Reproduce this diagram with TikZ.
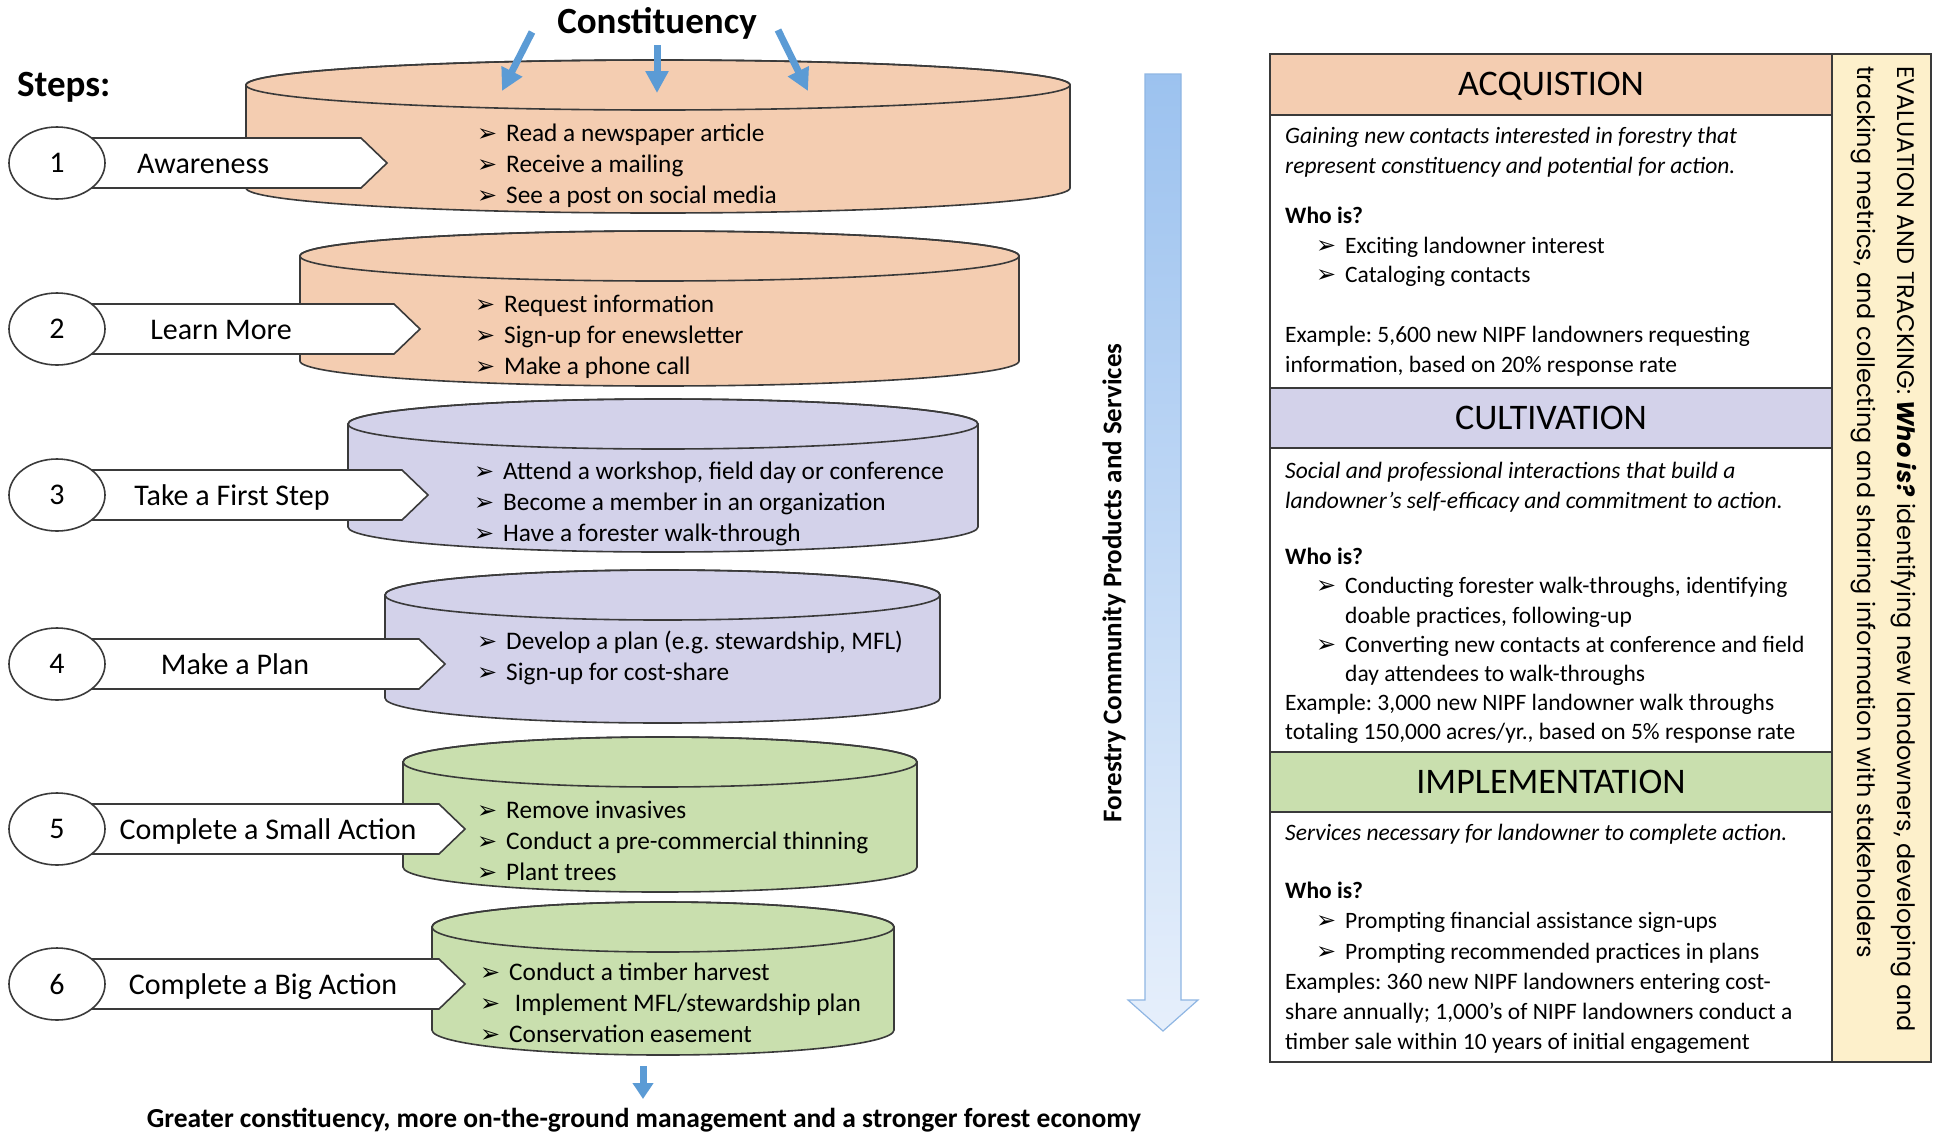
\documentclass[tikz,border=0pt]{standalone}
\usepackage{fontspec}
\setmainfont{Carlito}
\newfontfamily\dv{DejaVu Sans}
\newfontfamily\gothic{Poppins}
\usetikzlibrary{arrows.meta,shapes.geometric}
\definecolor{peach}{HTML}{F4CDB1}
\definecolor{lav}{HTML}{D3D2EA}
\definecolor{grn}{HTML}{C9DFAE}
\definecolor{yel}{HTML}{FDF0CB}
\definecolor{edge}{HTML}{3A3A3A}
\definecolor{arrblue}{HTML}{5B9BD5}
\definecolor{bigtop}{HTML}{9CC2EF}
\definecolor{bigbot}{HTML}{E6EFFB}
\definecolor{bigline}{HTML}{8FB6E3}
\frenchspacing
\newcommand\fs[2]{\fontsize{#1}{#2}\selectfont}
\newcommand\bl{\makebox[29pt][l]{\raisebox{0pt}{\dv\fs{24}{24}➢}}}
\newcommand\cylinder[5]{%
  \pgfmathsetmacro\cylcx{(#1+#2)/2}%
  \pgfmathsetmacro\cylrx{(#2-#1)/2}%
  \filldraw[cyl, fill=#5] (#1,#3) -- (#1,#4) arc[start angle=180,end angle=0,x radius=\cylrx,y radius=25] -- (#2,#3) arc[start angle=0,end angle=-180,x radius=\cylrx,y radius=25] -- cycle;
  \draw[cyl] (\cylcx,#3) ellipse[x radius=\cylrx,y radius=25];
}
\tikzset{
  cyl/.style={draw=edge, line width=1.6pt},
  outline/.style={draw=edge, line width=1.6pt},
  steptext/.style={inner sep=0pt, text height=21pt, text depth=6pt, font=\fs{30}{30}},
  stepcirc/.style={ellipse, draw=edge, line width=1.6pt, fill=white, minimum width=96pt, minimum height=72pt, inner sep=0pt, font=\fs{30}{30}},
  cyltext/.style={inner sep=0pt, anchor=west, align=left, font=\fs{25.3}{31}},
  boxtext/.style={inner sep=0pt, anchor=west, align=left, font=\fs{23.5}{29.5}},
  header/.style={inner sep=0pt, text height=25pt, text depth=7pt, font=\fs{36}{36}},
  bluearrow/.style={draw=arrblue, line width=7pt, -{Triangle[width=22pt,length=22pt]}},
}
\begin{document}
\begin{tikzpicture}[x=1pt,y=-1pt]
\useasboundingbox[fill=white] (0,0) rectangle (1939,1133);

% titles
\node[inner sep=0pt, text height=26pt, text depth=7.5pt, font=\bfseries\fs{37}{37}] (title) at (657,24) {Constituency};
\node[inner sep=0pt, anchor=west, text height=26pt, text depth=7.5pt, font=\bfseries\fs{37}{37}] (steps) at (17,87) {Steps:};

% cylinders
\cylinder{246}{1070}{85}{188}{peach}
\cylinder{300}{1019}{256}{361}{peach}
\cylinder{348}{978}{424}{527}{lav}
\cylinder{385}{940}{595}{698}{lav}
\cylinder{403}{917}{762}{867}{grn}
\cylinder{432}{894}{927}{1030}{grn}

% constituency arrows
\coordinate (a1s) at (532,32); \coordinate (a1e) at (502,91);
\coordinate (a2s) at (657,45); \coordinate (a2e) at (657,93);
\coordinate (a3s) at (778,30); \coordinate (a3e) at (808,91);
\draw[bluearrow] (a1s) -- (a1e);
\draw[bluearrow] (a2s) -- (a2e);
\draw[bluearrow] (a3s) -- (a3e);

% cylinder texts
\node[cyltext] (c1) at (477,166) {\bl Read a newspaper article\\\bl Receive a mailing\\\bl See a post on social media};
\node[cyltext] (c2) at (475,337) {\bl Request information\\\bl Sign-up for enewsletter\\\bl Make a phone call};
\node[cyltext] (c3) at (474,504) {\bl Attend a workshop, field day or conference\\\bl Become a member in an organization\\\bl Have a forester walk-through};
\node[cyltext] (c4) at (477,658) {\bl Develop a plan (e.g. stewardship, MFL)\\\bl Sign-up for cost-share};
\node[cyltext] (c5) at (477,841) {\bl Remove invasives\\\bl Conduct a pre-commercial thinning\\\bl Plant trees};
\node[cyltext] (c6) at (480,1003) {\bl Conduct a timber harvest\\\bl\ Implement MFL/stewardship plan\\\bl Conservation easement};

% step labels
\foreach \n/\cy/\tip/\tx/\lab in {1/163/387/203/Awareness, 2/329/420/221/Learn More, 3/495/428/232/Take a First Step, 4/664/445/235/Make a Plan, 5/829/465/268/Complete a Small Action, 6/984/465/263/Complete a Big Action}{
  \filldraw[outline, fill=white] (57,\cy-25) -- (\tip-26,\cy-25) -- (\tip,\cy) -- (\tip-26,\cy+25) -- (57,\cy+25) -- cycle;
  \node[steptext] (lab\n) at (\tx,\cy+3) {\lab};
  \node[stepcirc] (num\n) at (57,\cy) {\n};
}

% big arrow
\path[draw=bigline, line width=1.2pt, top color=bigtop, bottom color=bigbot]
  (1145,74) -- (1181,74) -- (1181,1000) -- (1198,1000) -- (1163,1031) -- (1128,1000) -- (1145,1000) -- cycle;
\node[rotate=90, inner sep=0pt, font=\bfseries\fs{27}{27}] (forestry) at (1114,583) {Forestry Community Products and Services};

% bottom
\coordinate (bs) at (643,1066); \coordinate (be) at (643,1099);
\draw[bluearrow, -{Triangle[width=20pt,length=16pt]}] (bs) -- (be);
\node[inner sep=0pt, text height=19pt, text depth=5.5pt, font=\bfseries\fs{27.5}{27.5}] (result) at (644,1121) {Greater constituency, more on-the-ground management and a stronger forest economy};

% right box
\filldraw[outline, fill=yel] (1832,54) rectangle (1931,1062);
\filldraw[outline, fill=white] (1270,54) rectangle (1832,1062);
\filldraw[outline, fill=peach] (1270,54) rectangle (1832,115);
\filldraw[outline, fill=lav] (1270,388) rectangle (1832,448);
\filldraw[outline, fill=grn] (1270,752) rectangle (1832,812);
\node[header] (hacq) at (1551,86) {ACQUISTION};
\node[header] (hcul) at (1551,420) {CULTIVATION};
\node[header] (himp) at (1551,784) {IMPLEMENTATION};

\node[boxtext] (acq1) at (1285,152) {\itshape Gaining new contacts interested in forestry that\\\itshape represent constituency and potential for action.};
\node[boxtext] (acq2) at (1285,247) {\textbf{Who is?}\\\hspace*{31pt}\bl Exciting landowner interest\\\hspace*{31pt}\bl Cataloging contacts};
\node[boxtext] (acq3) at (1285,351) {Example: 5,600 new NIPF landowners requesting\\information, based on 20\% response rate};

\node[boxtext] (cul1) at (1285,487) {\itshape Social and professional interactions that build a\\\itshape landowner’s self-efficacy and commitment to action.};
\node[boxtext, font=\fs{23.5}{29.2}] (cul2) at (1285,646) {\textbf{Who is?}\\\hspace*{31pt}\bl Conducting forester walk-throughs, identifying\\\hspace*{60pt}doable practices, following-up\\\hspace*{31pt}\bl Converting new contacts at conference and field\\\hspace*{60pt}day attendees to walk-throughs\\Example: 3,000 new NIPF landowner walk throughs\\totaling 150,000 acres/yr., based on 5\% response rate};

\node[boxtext] (imp1) at (1285,834) {\itshape Services necessary for landowner to complete action.};
\node[boxtext, font=\fs{23.5}{30.2}] (imp2) at (1285,968) {\textbf{Who is?}\\\hspace*{31pt}\bl Prompting financial assistance sign-ups\\\hspace*{31pt}\bl Prompting recommended practices in plans\\Examples: 360 new NIPF landowners entering cost-\\share annually; 1,000’s of NIPF landowners conduct a\\timber sale within 10 years of initial engagement};

\node[rotate=-90, anchor=west, inner sep=0pt, align=left, font=\gothic\fs{24}{40}] (evalt) at (1884,66) {EVALUATION AND TRACKING: \textbf{\textit{Who is?}} identifying new landowners, developing and\\tracking metrics, and collecting and sharing information with stakeholders};
\end{tikzpicture}
\end{document}
